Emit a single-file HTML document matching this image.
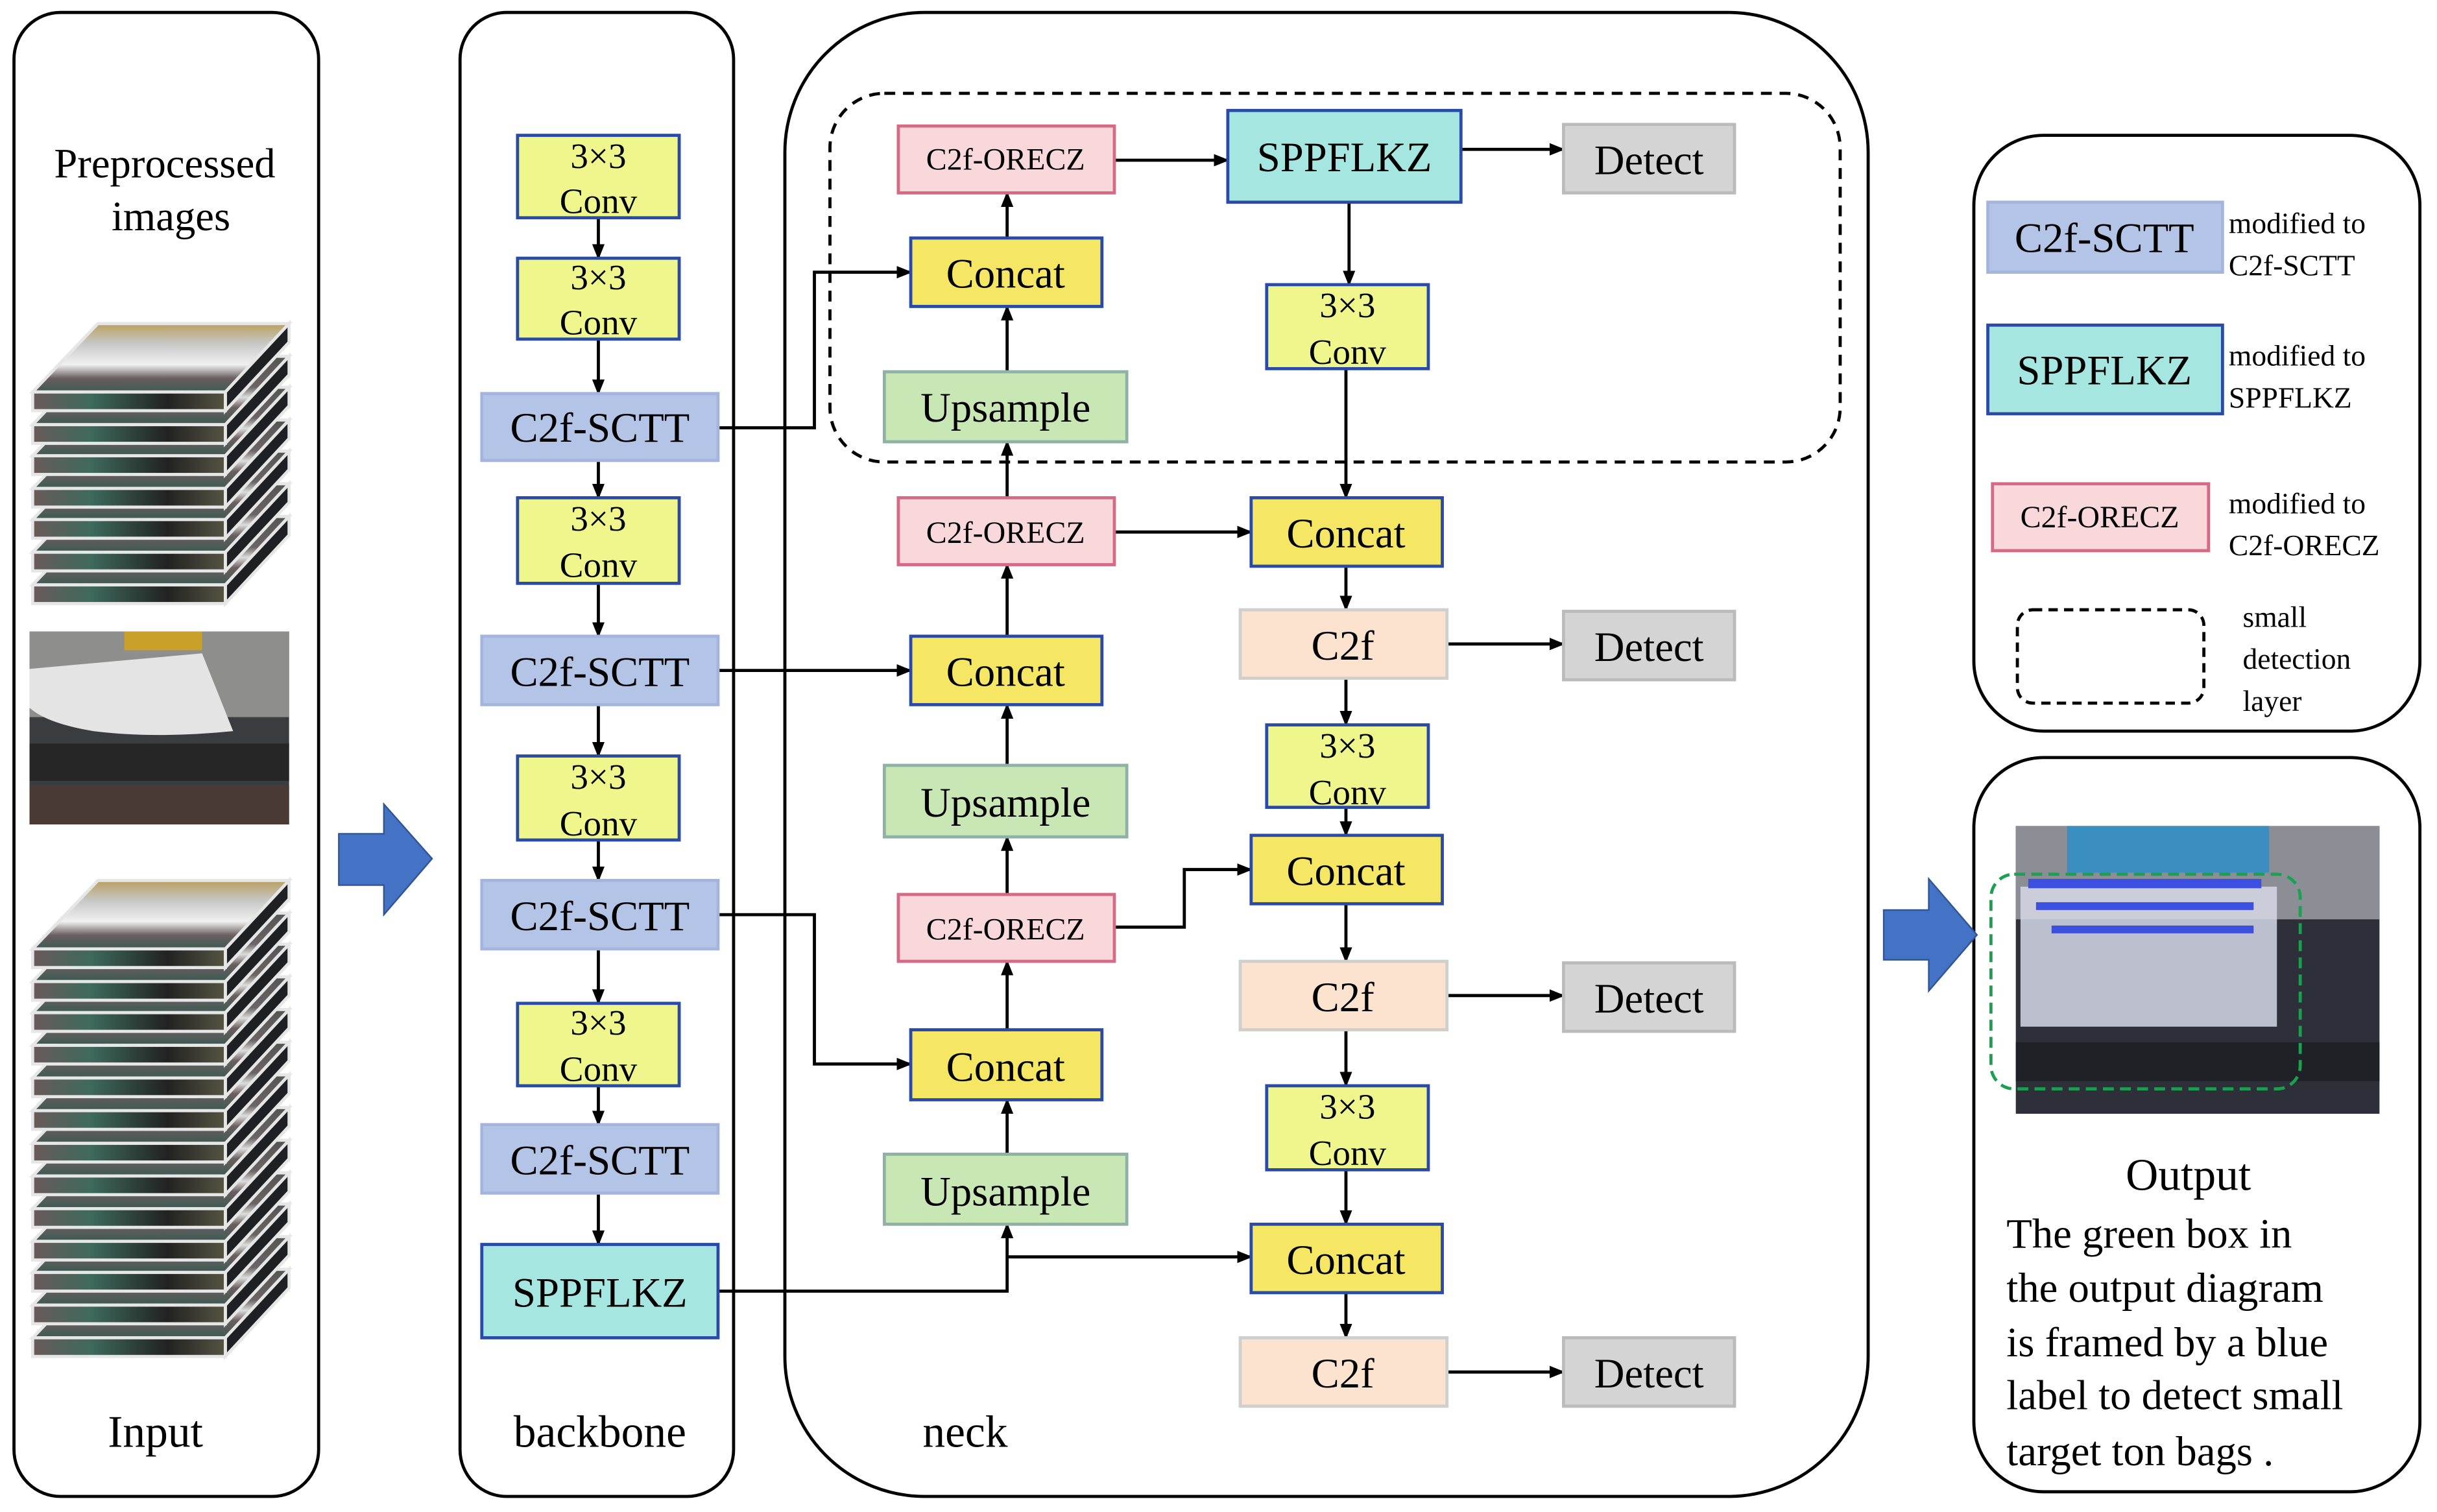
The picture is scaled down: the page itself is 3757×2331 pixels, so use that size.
<!DOCTYPE html>
<html><head><meta charset="utf-8"><style>html,body{margin:0;padding:0;background:#fff}svg{display:block}</style></head><body>
<svg xmlns="http://www.w3.org/2000/svg" width="3757" height="2331" viewBox="0 0 1568 972" preserveAspectRatio="none" font-family="Liberation Serif, serif">
<defs>
<marker id="a" markerWidth="10" markerHeight="10" refX="9" refY="5" orient="auto" markerUnits="userSpaceOnUse"><path d="M0,1 L10,5 L0,9 Z" fill="#000"/></marker>
<linearGradient id="sl" x1="0" y1="0" x2="1" y2="0"><stop offset="0" stop-color="#6a5a5a"/><stop offset="0.3" stop-color="#3e6a5c"/><stop offset="0.7" stop-color="#222"/><stop offset="1" stop-color="#554"/></linearGradient>
<linearGradient id="tf" x1="0" y1="0" x2="0" y2="1"><stop offset="0" stop-color="#555"/><stop offset="0.45" stop-color="#6a6466"/><stop offset="0.6" stop-color="#ddd"/><stop offset="0.75" stop-color="#6a5e60"/><stop offset="1" stop-color="#3e5a52"/></linearGradient>
<linearGradient id="tp" x1="0" y1="0" x2="0" y2="1"><stop offset="0" stop-color="#b8a060"/><stop offset="0.3" stop-color="#c8c8c8"/><stop offset="0.6" stop-color="#f0f0f0"/><stop offset="0.8" stop-color="#6a5e60"/><stop offset="1" stop-color="#3e5a52"/></linearGradient>
<g id="slab"><path d="M21,44 L63,0 L186,0 L145,44 Z" fill="url(#tf)" stroke="#e6e6e6" stroke-width="2"/><path d="M145,44 L186,0 L186,12 L145,56 Z" fill="#1e2024" stroke="#e6e6e6" stroke-width="2"/><rect x="21" y="44" width="124" height="12" fill="url(#sl)" stroke="#e6e6e6" stroke-width="2"/></g>
<g id="slabT"><path d="M21,44 L63,0 L186,0 L145,44 Z" fill="url(#tp)" stroke="#e6e6e6" stroke-width="2"/><path d="M145,44 L186,0 L186,12 L145,56 Z" fill="#1e2024" stroke="#e6e6e6" stroke-width="2"/><rect x="21" y="44" width="124" height="12" fill="url(#sl)" stroke="#e6e6e6" stroke-width="2"/></g>
</defs>
<rect width="1568" height="972" fill="#fff"/>
<g fill="none" stroke="#000" stroke-width="2">
<rect x="9" y="8" width="196" height="954" rx="30"/>
<rect x="296" y="8" width="176" height="954" rx="30"/>
<rect x="505" y="8" width="697" height="954" rx="90"/>
<rect x="1270" y="87" width="287" height="383" rx="45"/>
<rect x="1270" y="487" width="287" height="472" rx="45"/>
<rect x="534" y="60" width="650" height="237" rx="35" stroke-dasharray="7,5"/>
</g>
<g font-size="27" text-anchor="middle">
<text x="106" y="114">Preprocessed</text><text x="110" y="148">images</text>
<text x="100" y="930" font-size="29">Input</text>
<text x="386" y="930" font-size="29">backbone</text>
<text x="621" y="930" font-size="29">neck</text>
</g>
<!-- stacks -->
<g>
<use href="#slab" y="332"/><use href="#slab" y="311"/><use href="#slab" y="290"/><use href="#slab" y="270"/><use href="#slab" y="249"/><use href="#slab" y="229"/><use href="#slabT" y="208"/>
</g>
<rect x="19" y="406" width="167" height="124" fill="#3a3d40"/>
<rect x="19" y="406" width="167" height="55" fill="#8e8e8c"/>
<rect x="80" y="406" width="50" height="12" fill="#c9a12a"/>
<path d="M19,430 L130,420 L150,470 Q100,475 60,470 Q30,465 19,455 Z" fill="#e4e4e4"/>
<rect x="19" y="478" width="167" height="24" fill="#262626"/><rect x="19" y="505" width="167" height="25" fill="#4a3a36"/>
<g>
<use href="#slab" y="816"/><use href="#slab" y="795"/><use href="#slab" y="774"/><use href="#slab" y="754"/><use href="#slab" y="733"/><use href="#slab" y="712"/><use href="#slab" y="691"/><use href="#slab" y="670"/><use href="#slab" y="649"/><use href="#slab" y="628"/><use href="#slab" y="607"/><use href="#slab" y="587"/><use href="#slabT" y="566"/>
</g>
<path d="M218,536 L247,536 L247,517 L278,552 L247,588 L247,569 L218,569 Z" fill="#4472c4" stroke="#2f5597" stroke-width="1"/>
<path d="M1212,585 L1241,585 L1241,565 L1272,601 L1241,637 L1241,617 L1212,617 Z" fill="#4472c4" stroke="#2f5597" stroke-width="1"/>
<!-- connectors -->
<g stroke="#000" stroke-width="2" fill="none" marker-end="url(#a)">
<line x1="385" y1="140" x2="385" y2="166"/><line x1="385" y1="218" x2="385" y2="253"/><line x1="385" y1="296" x2="385" y2="320"/><line x1="385" y1="375" x2="385" y2="409"/><line x1="385" y1="453" x2="385" y2="486"/><line x1="385" y1="540" x2="385" y2="566"/><line x1="385" y1="610" x2="385" y2="645"/><line x1="385" y1="698" x2="385" y2="723"/><line x1="385" y1="767" x2="385" y2="800"/>
<polyline points="462,275 524,275 524,175 586,175"/>
<line x1="462" y1="431" x2="586" y2="431"/>
<polyline points="462,588 524,588 524,684 586,684"/>
<polyline points="462,830 648,830 648,787"/>
<polyline points="648,808 805,808"/>
<line x1="648" y1="742" x2="648" y2="707"/><line x1="648" y1="662" x2="648" y2="618"/><line x1="648" y1="575" x2="648" y2="538"/><line x1="648" y1="492" x2="648" y2="453"/><line x1="648" y1="409" x2="648" y2="363"/><line x1="648" y1="320" x2="648" y2="284"/><line x1="648" y1="239" x2="648" y2="197"/><line x1="648" y1="153" x2="648" y2="124"/>
<line x1="717" y1="103" x2="790" y2="103"/>
<line x1="940" y1="96" x2="1006" y2="96"/>
<line x1="868" y1="130" x2="868" y2="183"/>
<line x1="866" y1="237" x2="866" y2="320"/>
<line x1="717" y1="342" x2="805" y2="342"/>
<line x1="866" y1="364" x2="866" y2="392"/>
<line x1="931" y1="414" x2="1006" y2="414"/>
<line x1="866" y1="436" x2="866" y2="466"/>
<line x1="866" y1="519" x2="866" y2="537"/>
<polyline points="717,596 762,596 762,559 805,559"/>
<line x1="866" y1="581" x2="866" y2="618"/>
<line x1="931" y1="640" x2="1006" y2="640"/>
<line x1="866" y1="662" x2="866" y2="698"/>
<line x1="866" y1="752" x2="866" y2="787"/>
<line x1="866" y1="831" x2="866" y2="860"/>
<line x1="931" y1="882" x2="1006" y2="882"/>
</g>
<!-- boxes -->
<g stroke-width="2">
<g fill="#eff78c" stroke="#2a4aa8">
<rect x="333" y="87" width="104" height="53"/><rect x="333" y="166" width="104" height="52"/><rect x="333" y="320" width="104" height="55"/><rect x="333" y="486" width="104" height="54"/><rect x="333" y="645" width="104" height="53"/>
<rect x="815" y="183" width="104" height="54"/><rect x="815" y="466" width="104" height="53"/><rect x="815" y="698" width="104" height="54"/>
</g>
<g fill="#b4c4e6" stroke="#a3b5dc">
<rect x="310" y="253" width="152" height="43"/><rect x="310" y="409" width="152" height="44"/><rect x="310" y="566" width="152" height="44"/><rect x="310" y="723" width="152" height="44"/>
<rect x="1279" y="130" width="151" height="45"/>
</g>
<g fill="#a6e6e0" stroke="#2a4aa8"><rect x="310" y="800" width="152" height="60"/><rect x="790" y="71" width="150" height="59"/><rect x="1279" y="209" width="151" height="57"/></g>
<g fill="#f9d8dc" stroke="#d66a86"><rect x="578" y="81" width="139" height="43"/><rect x="578" y="320" width="139" height="43"/><rect x="578" y="575" width="139" height="43"/><rect x="1282" y="311" width="139" height="43"/></g>
<g fill="#f5e764" stroke="#2a4aa8"><rect x="586" y="153" width="123" height="44"/><rect x="586" y="409" width="123" height="44"/><rect x="586" y="662" width="123" height="45"/><rect x="805" y="320" width="123" height="44"/><rect x="805" y="537" width="123" height="44"/><rect x="805" y="787" width="123" height="44"/></g>
<g fill="#c9e6b5" stroke="#8fb2a8"><rect x="569" y="239" width="156" height="45"/><rect x="569" y="492" width="156" height="46"/><rect x="569" y="742" width="156" height="45"/></g>
<g fill="#fbe3d0" stroke="#cfcfcf"><rect x="798" y="392" width="133" height="44"/><rect x="798" y="618" width="133" height="44"/><rect x="798" y="860" width="133" height="44"/></g>
<g fill="#d4d4d4" stroke="#bbb"><rect x="1006" y="80" width="110" height="44"/><rect x="1006" y="393" width="110" height="44"/><rect x="1006" y="619" width="110" height="44"/><rect x="1006" y="860" width="110" height="44"/></g>
<rect x="1298" y="392" width="120" height="60" rx="10" fill="none" stroke="#000" stroke-dasharray="6,4"/>
</g>
<!-- labels -->
<g text-anchor="middle" font-size="23" fill="#000">
<text x="385" y="108">3×3</text><text x="385" y="137">Conv</text>
<text x="385" y="186">3×3</text><text x="385" y="215">Conv</text>
<text x="385" y="341">3×3</text><text x="385" y="371">Conv</text>
<text x="385" y="507">3×3</text><text x="385" y="537">Conv</text>
<text x="385" y="665">3×3</text><text x="385" y="695">Conv</text>
<text x="867" y="204">3×3</text><text x="867" y="234">Conv</text>
<text x="867" y="487">3×3</text><text x="867" y="517">Conv</text>
<text x="867" y="719">3×3</text><text x="867" y="749">Conv</text>
</g>
<g text-anchor="middle" font-size="27">
<text x="386" y="284">C2f-SCTT</text><text x="386" y="441">C2f-SCTT</text><text x="386" y="598">C2f-SCTT</text><text x="386" y="755">C2f-SCTT</text>
<text x="386" y="840">SPPFLKZ</text><text x="865" y="110">SPPFLKZ</text>
<text x="647" y="185">Concat</text><text x="647" y="441">Concat</text><text x="647" y="695">Concat</text>
<text x="866" y="352">Concat</text><text x="866" y="569">Concat</text><text x="866" y="819">Concat</text>
<text x="647" y="271">Upsample</text><text x="647" y="525">Upsample</text><text x="647" y="775">Upsample</text>
<text x="864" y="424">C2f</text><text x="864" y="650">C2f</text><text x="864" y="892">C2f</text>
<text x="1061" y="112">Detect</text><text x="1061" y="425">Detect</text><text x="1061" y="651">Detect</text><text x="1061" y="892">Detect</text>
<text x="1354" y="162">C2f-SCTT</text><text x="1354" y="247">SPPFLKZ</text>
</g>
<g text-anchor="middle" font-size="20">
<text x="647" y="109">C2f-ORECZ</text><text x="647" y="349">C2f-ORECZ</text><text x="647" y="604">C2f-ORECZ</text><text x="1351" y="339">C2f-ORECZ</text>
</g>
<g font-size="19">
<text x="1434" y="150">modified to</text><text x="1434" y="177">C2f-SCTT</text>
<text x="1434" y="235">modified to</text><text x="1434" y="262">SPPFLKZ</text>
<text x="1434" y="330">modified to</text><text x="1434" y="357">C2f-ORECZ</text>
<text x="1443" y="403">small</text><text x="1443" y="430">detection</text><text x="1443" y="457">layer</text>
</g>
<!-- output image -->
<rect x="1297" y="531" width="234" height="185" fill="#2d3038"/>
<rect x="1297" y="531" width="234" height="60" fill="#8c8e96"/>
<rect x="1330" y="531" width="130" height="30" fill="#3a8ec0"/>
<rect x="1300" y="570" width="165" height="90" fill="#d6d8e8" opacity="0.85"/>
<g fill="#3b4fe0"><rect x="1305" y="565" width="150" height="6"/><rect x="1310" y="580" width="140" height="5"/><rect x="1320" y="595" width="130" height="5"/></g>
<rect x="1297" y="670" width="234" height="25" fill="#1e2226"/>
<rect x="1281" y="562" width="199" height="138" rx="15" fill="none" stroke="#1aa050" stroke-width="2" stroke-dasharray="7,4"/>
<text x="1408" y="765" font-size="29" text-anchor="middle">Output</text>
<g font-size="27">
<text x="1291" y="802">The green box in</text>
<text x="1291" y="837">the output diagram</text>
<text x="1291" y="872">is framed by a blue</text>
<text x="1291" y="906">label to detect small</text>
<text x="1291" y="942">target ton bags .</text>
</g>
</svg>
</body></html>
